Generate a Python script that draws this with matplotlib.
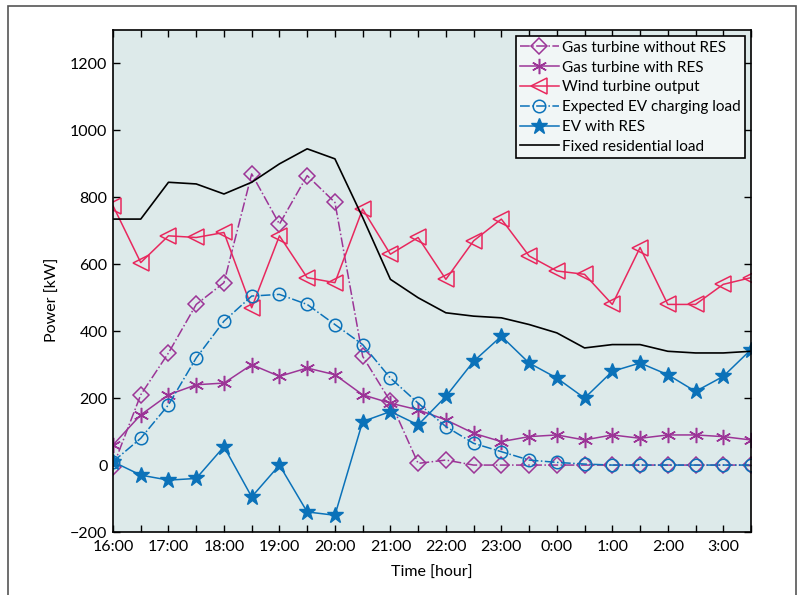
import numpy as np
import matplotlib.pyplot as plt
from matplotlib.patches import Rectangle

plt.rcParams['font.family'] = ['Lato', 'DejaVu Sans']

### data (half-hour steps from 16:00 to 3:30) ###
times = ['16:00', '16:30', '17:00', '17:30', '18:00', '18:30', '19:00', '19:30',
         '20:00', '20:30', '21:00', '21:30', '22:00', '22:30', '23:00', '23:30',
         '0:00', '0:30', '1:00', '1:30', '2:00', '2:30', '3:00', '3:30']

gas_no_res = [-5, 210, 335, 480, 545, 870, 720, 865, 785, 325, 190, 5,
              15, 0, 0, 0, 0, 0, 0, 0, 0, 0, 0, 0]
gas_res = [60, 150, 210, 240, 245, 300, 265, 290, 270, 210, 185, 165,
           135, 95, 70, 85, 90, 75, 90, 80, 90, 90, 85, 75]
wind = [775, 605, 685, 680, 695, 470, 685, 560, 545, 765, 630, 680,
        555, 670, 735, 625, 580, 570, 480, 650, 480, 480, 540, 560]
ev_expected = [10, 80, 180, 320, 430, 505, 510, 480, 420, 360, 260, 185,
               115, 65, 40, 15, 8, 3, 0, 0, 0, 0, 0, 0]
ev_res = [10, -30, -45, -40, 55, -95, 0, -140, -150, 130, 160, 120,
          205, 310, 385, 305, 260, 200, 280, 305, 270, 220, 265, 345]
residential = [735, 735, 845, 840, 810, 845, 900, 945, 915, 740, 555, 500,
               455, 445, 440, 420, 395, 350, 360, 360, 340, 335, 335, 340]

x = np.arange(len(times))

purple = '#9c3597'
red = '#e8285e'
blue = '#0b72b9'

fig = plt.figure(figsize=(8.04, 5.95), dpi=100)
ax = fig.add_axes([113/804, 1-532/595, 638/804, 502/595])
ax.set_facecolor('#ddeaea')

ax.plot(x, gas_no_res, '-.', color=purple, lw=1.1, marker='D', ms=8,
        mfc='none', mec=purple, mew=1.1, label='Gas turbine without RES')
ax.plot(x, gas_res, '-', color=purple, lw=1.1, marker=(6, 2, 0), ms=11,
        mec=purple, mew=1.1, label='Gas turbine with RES')
ax.plot(x, wind, '-', color=red, lw=1.1, marker='<', ms=11,
        mfc='none', mec=red, mew=1.1, label='Wind turbine output')
ax.plot(x, ev_expected, '-.', color=blue, lw=1.1, marker='o', ms=9,
        mfc='none', mec=blue, mew=1.1, label='Expected EV charging load')
ax.plot(x, ev_res, '-', color=blue, lw=1.1, marker='*', ms=12,
        mfc=blue, mec=blue, label='EV with RES')
ax.plot(x, residential, '-', color='black', lw=1.2, label='Fixed residential load')

ax.set_xlim(0, 23)
ax.set_ylim(-200, 1300)
ax.set_xticks(x)
ax.set_xticklabels([t if i % 2 == 0 else '' for i, t in enumerate(times)])
ax.set_yticks(np.arange(-200, 1201, 200))
ax.tick_params(direction='in', top=True, right=True, length=5, width=1,
               labelsize=11.5, pad=4)
ax.tick_params(axis='x', pad=6)
for s in ax.spines.values():
    s.set_linewidth(1.2)
ax.set_xlabel('Time [hour]', fontsize=11.5, labelpad=8)
ax.set_ylabel('Power [kW]', fontsize=11.5)
ax.yaxis.set_label_coords(-0.083, 0.462)

leg = ax.legend(loc='upper right', fontsize=11, handlelength=2.5,
                handletextpad=0.2, labelspacing=0.38, borderpad=0.3,
                borderaxespad=0.4, fancybox=False, framealpha=1,
                facecolor='#f1f6f6', edgecolor='black')
leg.get_frame().set_linewidth(1.2)

### outer frame ###
fig.patches.append(Rectangle((8/804, -0.05), 788/804, 1.05-6/595,
                             transform=fig.transFigure, fill=False,
                             edgecolor='#555555', lw=1.2, clip_on=False))

plt.savefig('out.png', dpi=100)
